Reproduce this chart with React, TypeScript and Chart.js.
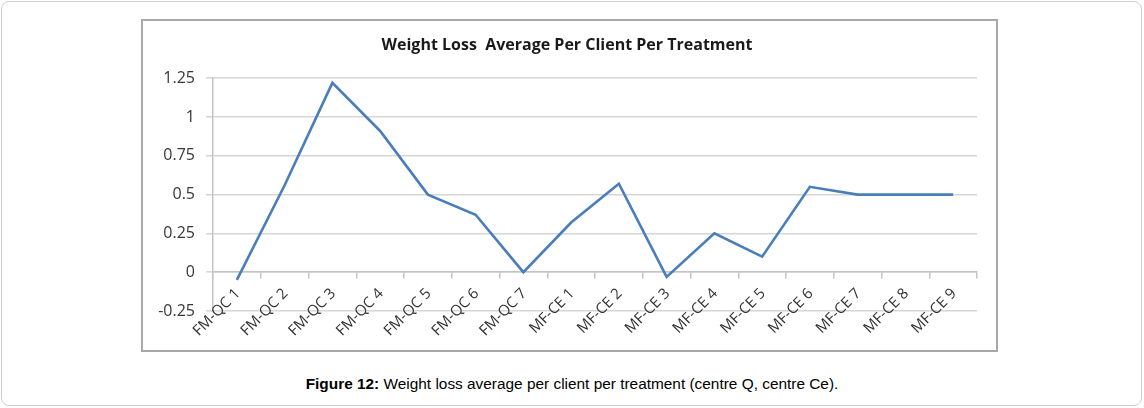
import React, { useEffect, useRef } from "react";
import { Chart, registerables } from "chart.js";

Chart.register(...registerables);

const categories = [
  "FM-QC 1", "FM-QC 2", "FM-QC 3", "FM-QC 4", "FM-QC 5", "FM-QC 6", "FM-QC 7",
  "MF-CE 1", "MF-CE 2", "MF-CE 3", "MF-CE 4", "MF-CE 5", "MF-CE 6", "MF-CE 7", "MF-CE 8", "MF-CE 9",
];
const weightLoss = [-0.05, 0.56, 1.22, 0.91, 0.5, 0.37, 0, 0.32, 0.57, -0.03, 0.25, 0.1, 0.55, 0.5, 0.5, 0.5];
const yTickValues = [-0.25, 0, 0.25, 0.5, 0.75, 1, 1.25];
const yTickLabels = ["-0.25", "0", "0.25", "0.5", "0.75", "1", "1.25"];
const chartTitle = "Weight Loss  Average Per Client Per Treatment";

const CANVAS_W = 853;
const CANVAS_H = 329;

// Draws the category axis labels rotated 45°, hanging below the axis that crosses at y = 0
const rotatedCategoryLabels = {
  id: "rotatedCategoryLabels",
  afterDraw(chart: any) {
    const xs = chart.scales.x;
    const ys = chart.scales.y;
    const ctx = chart.ctx;
    const y0 = ys.getPixelForValue(0);
    ctx.save();
    ctx.fillStyle = "#333333";
    ctx.font = "15px 'Open Sans'";
    ctx.textAlign = "right";
    ctx.textBaseline = "middle";
    xs.ticks.forEach((tick: any, i: number) => {
      const x = xs.getPixelForTick(i);
      const label = xs.getLabelForValue(tick.value);
      ctx.save();
      ctx.translate(x + 1, y0 + 19);
      ctx.rotate(-Math.PI / 4);
      ctx.fillText(label, 0, 0);
      ctx.restore();
    });
    ctx.restore();
  },
};

function LineChart() {
  const ref = useRef<HTMLCanvasElement | null>(null);
  useEffect(() => {
    if (!ref.current) return;
    const chart = new Chart(ref.current, {
      type: "line",
      plugins: [rotatedCategoryLabels],
      data: {
        labels: categories,
        datasets: [
          {
            label: "Weight loss",
            data: weightLoss,
            borderColor: "#4A7EBB",
            backgroundColor: "#4A7EBB",
            borderWidth: 2.6,
            pointRadius: 0,
            tension: 0,
          },
        ],
      },
      options: {
        responsive: false,
        animation: false,
        devicePixelRatio: 1,
        layout: { padding: { left: 14, right: 19, top: 0, bottom: 39 } },
        plugins: {
          legend: { display: false },
          tooltip: { enabled: false },
          title: {
            display: true,
            text: chartTitle,
            color: "#1a1a1a",
            font: { family: "'Open Sans'", size: 16, weight: "bold", lineHeight: 1.2 },
            padding: { top: 15, bottom: 23 },
          },
        },
        scales: {
          x: {
            type: "category",
            position: { y: 0 } as any,
            offset: true,
            grid: {
              display: true,
              offset: true,
              drawOnChartArea: false,
              drawTicks: true,
              tickLength: 6,
              color: "#c4c4c4",
              lineWidth: 1.5,
            },
            border: { display: true, color: "#c4c4c4", width: 1.5 },
            ticks: { display: false, autoSkip: false },
          },
          y: {
            min: -0.25,
            max: 1.25,
            afterBuildTicks: (scale: any) => {
              scale.ticks = yTickValues.map((v) => ({ value: v }));
            },
            afterFit: (scale: any) => {
              scale.width = 56;
            },
            grid: {
              color: "#d6d6d6",
              lineWidth: 1.6,
              tickLength: 7,
              drawTicks: true,
            },
            border: { display: true, color: "#c4c4c4", width: 1.5 },
            ticks: {
              color: "#383838",
              padding: 11,
              font: { family: "'Open Sans'", size: 16 },
              callback: (_v: any, i: number) => yTickLabels[i],
            },
          },
        },
      },
    });
    return () => chart.destroy();
  }, []);
  return <canvas ref={ref} width={CANVAS_W} height={CANVAS_H} style={{ display: "block" }} />;
}

export default function App() {
  return (
    <div style={{ position: "fixed", left: 0, top: 0, width: 1144, height: 408, background: "#fff" }}>
      <div
        style={{
          position: "absolute",
          left: 1,
          top: 1,
          width: 1141,
          height: 405,
          boxSizing: "border-box",
          border: "1px solid #cfcfcf",
          borderRadius: 8,
        }}
      />
      <div
        style={{
          position: "absolute",
          left: 141,
          top: 19,
          width: 857,
          height: 333,
          boxSizing: "border-box",
          border: "2px solid #a8a8a8",
          background: "#fff",
        }}
      >
        <LineChart />
      </div>
      <div
        style={{
          position: "absolute",
          left: 0,
          top: 375,
          width: 1144,
          textAlign: "center",
          fontFamily: "'Liberation Sans', Arial, sans-serif",
          fontSize: 15.4,
          lineHeight: "17px",
          color: "#000",
        }}
      >
        <b>Figure 12:</b> Weight loss average per client per treatment (centre Q, centre Ce).
      </div>
    </div>
  );
}
